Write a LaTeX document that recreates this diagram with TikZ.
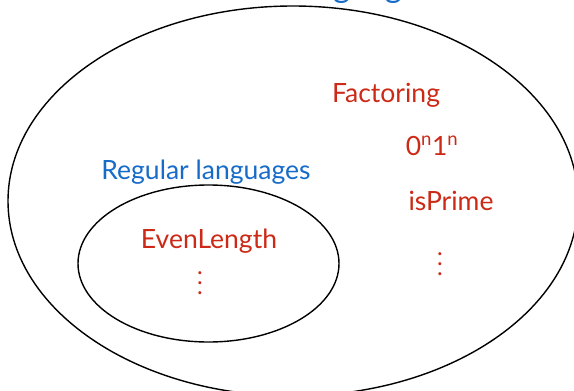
\documentclass[tikz,border=0pt]{standalone}
\usepackage{fontspec}
\setmainfont{Lato}
\definecolor{setred}{RGB}{204,42,22}
\definecolor{setblue}{RGB}{22,108,200}
\begin{document}
\begin{tikzpicture}[x=1pt,y=-1pt,
  setline/.style={draw=black,line width=1.4pt},
  member/.style={text=setred,font=\fontsize{26.5}{30}\selectfont,inner sep=0pt,anchor=base},
  setname/.style={text=setblue,font=\fontsize{26.5}{30}\selectfont,inner sep=0pt,anchor=base},
  vdotsnode/.style={text=setred,font=\fontsize{24}{10}\selectfont,inner sep=0pt,align=center}]
\useasboundingbox (0,0) rectangle (574,391);
\fill[white] (0,0) rectangle (574,391);
\draw[setline] (293,201) ellipse [x radius=285, y radius=195];
\draw[setline] (208.5,263.5) ellipse [x radius=130.5, y radius=78.5];
\node[setname,font=\fontsize{33}{40}\selectfont] (all) at (362,-3) {languages};
\node[setname] (reg) at (206,179) {Regular languages};
\node[member] (even) at (209,248) {EvenLength};
\node[vdotsnode,anchor=base] (d1) at (200,294) {.\\.\\.};
\node[member] (fact) at (386,102) {Factoring};
\node[member] (zo) at (432,155) {0\textsuperscript{n}1\textsuperscript{n}};
\node[member] (prime) at (451,210) {isPrime};
\node[vdotsnode,anchor=base] (d2) at (440,275) {.\\.\\.};
\end{tikzpicture}
\end{document}
